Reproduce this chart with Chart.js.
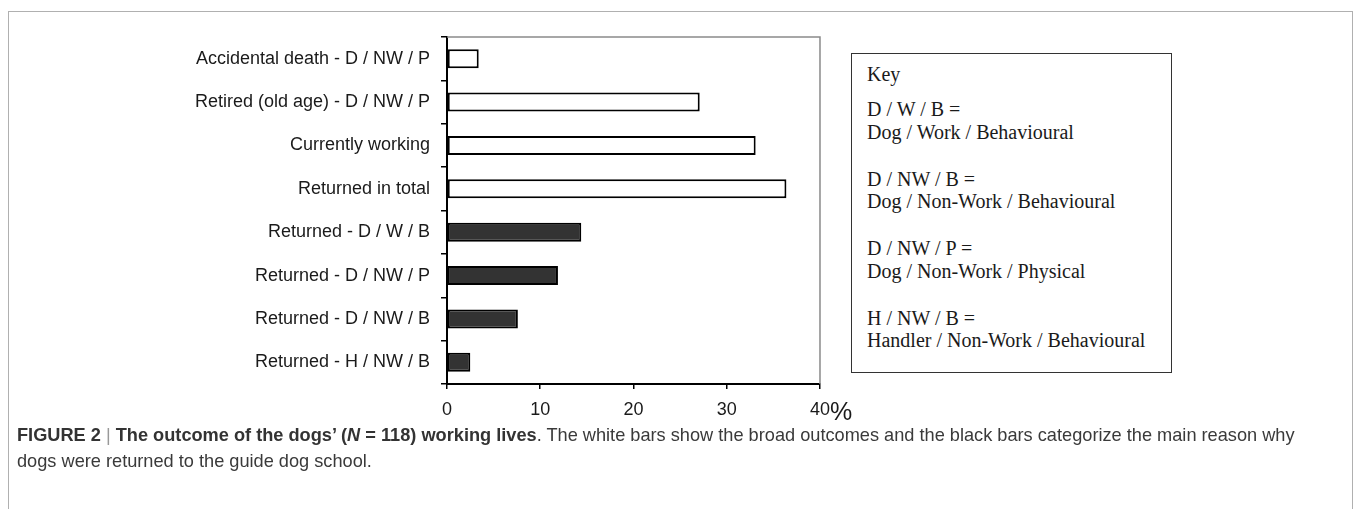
<!DOCTYPE html>
<html>
<head>
<meta charset="utf-8">
<script src="https://cdn.jsdelivr.net/npm/chart.js@4.4.1/dist/chart.umd.min.js"></script>
<style>
  html, body { margin: 0; padding: 0; background: #fff; }
  body { width: 1356px; height: 509px; position: relative; overflow: hidden; font-family: "Liberation Sans", Arial, sans-serif; }
  .frame { position: absolute; left: 8px; top: 11px; width: 1345px; height: 520px; border: 1px solid #b0b0b0; box-sizing: border-box; }
  .chart-wrap { position: absolute; left: 0; top: 0; width: 840px; height: 430px; }
  .pct { position: absolute; left: 830px; top: 397px; font-size: 25px; line-height: 29px; color: #1a1a1a; }
  .key { position: absolute; left: 851px; top: 53px; width: 321px; height: 320px; border: 1.5px solid #333; box-sizing: border-box;
         font-family: "Liberation Serif", "Times New Roman", serif; font-size: 20px; color: #1a1a1a; padding: 9px 0 0 15px; line-height: 22.5px; }
  .key p { margin: 0 0 24.5px 0; }
  .key p.titre { margin-bottom: 12.5px; }
  .caption { position: absolute; left: 17px; top: 422px; font-size: 18.2px; color: #3a3a3a; line-height: 26px; white-space: nowrap; }
  .caption b { color: #333; }
  .sep { color: #999; font-weight: normal; }
</style>
</head>
<body>
<div class="frame"></div>
<div class="chart-wrap"><canvas id="chart" width="840" height="430"></canvas></div>
<div class="pct">%</div>
<div class="key">
  <p class="titre">Key</p>
  <p>D / W / B =<br>Dog / Work / Behavioural</p>
  <p>D / NW / B =<br>Dog / Non-Work / Behavioural</p>
  <p>D / NW / P =<br>Dog / Non-Work / Physical</p>
  <p>H / NW / B =<br>Handler / Non-Work / Behavioural</p>
</div>
<div class="caption">
  <b>FIGURE 2 <span class="sep">|</span> The outcome of the dogs’ (<i>N</i> = 118) working lives</b>. The white bars show the broad outcomes and the black bars categorize the main reason why<br>dogs were returned to the guide dog school.
</div>
<script>
const CATEGORIES = [
  'Accidental death - D / NW / P',
  'Retired (old age) - D / NW / P',
  'Currently working',
  'Returned in total',
  'Returned - D / W / B',
  'Returned - D / NW / P',
  'Returned - D / NW / B',
  'Returned - H / NW / B',
];

// pourcentages des 118 chiens
const VALEURS = [3.4, 27.1, 33.1, 36.4, 14.4, 11.9, 7.6, 2.5];

const COULEURS = ['#ffffff', '#ffffff', '#ffffff', '#ffffff', '#333333', '#333333', '#333333', '#333333'];

const X_TICKS = [0, 10, 20, 30, 40];

// cadre gris en haut et à droite de la zone de tracé
const cadrePlugin = {
  id: 'cadre',
  beforeDatasetsDraw(chart) {
    const { ctx, chartArea: a } = chart;
    ctx.save();
    ctx.strokeStyle = '#8a8a8a';
    ctx.lineWidth = 1.5;
    ctx.beginPath();
    ctx.moveTo(a.left, a.top);
    ctx.lineTo(a.right, a.top);
    ctx.lineTo(a.right, a.bottom);
    ctx.stroke();
    ctx.restore();
  },
};

new Chart(document.getElementById('chart'), {
  type: 'bar',
  data: {
    labels: CATEGORIES,
    datasets: [{
      data: VALEURS,
      backgroundColor: COULEURS,
      borderColor: '#000',
      borderWidth: 2,
      borderSkipped: false,
      barPercentage: 0.44,
      categoryPercentage: 1,
    }],
  },
  options: {
    indexAxis: 'y',
    responsive: false,
    animation: false,
    layout: { padding: { top: 37, right: 20, left: 0, bottom: 0 } },
    plugins: { legend: { display: false }, tooltip: { enabled: false } },
    scales: {
      x: {
        min: 0,
        max: 40,
        afterBuildTicks: (axis) => { axis.ticks = X_TICKS.map((v) => ({ value: v })); },
        afterFit: (axis) => { axis.height = 46; },
        grid: { drawOnChartArea: false, drawTicks: true, tickLength: 5, color: '#000', lineWidth: 1.5 },
        border: { color: '#000', width: 2 },
        ticks: { color: '#1a1a1a', font: { family: 'Liberation Sans', size: 18 }, padding: 10, maxRotation: 0 },
      },
      y: {
        afterFit: (axis) => { axis.width = 447; },
        grid: { drawOnChartArea: false, drawTicks: true, tickLength: 6, color: '#000', lineWidth: 1.5, offset: true },
        border: { color: '#000', width: 2 },
        ticks: { color: '#1a1a1a', font: { family: 'Liberation Sans', size: 18 }, padding: 11, autoSkip: false },
      },
    },
  },
  plugins: [cadrePlugin],
});
</script>
</body>
</html>
